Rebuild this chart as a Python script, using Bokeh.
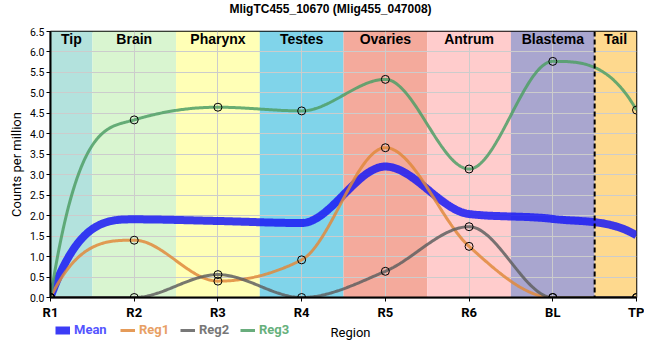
import numpy as np
from bokeh.plotting import figure
from bokeh.layouts import column
from bokeh.models import (ColumnDataSource, FixedTicker, Range1d, Legend, LegendItem,
                          Label, Span, NumeralTickFormatter)
from bokeh.core.properties import value
from bokeh.embed import file_html
from bokeh.resources import INLINE

# ---------------- data ----------------
title_text = "MligTC455_10670 (Mlig455_047008)"
x_title = "Region"
y_title = "Counts per million"
samples = ["R1", "R2", "R3", "R4", "R5", "R6", "BL", "TP"]
regions = ["Tip", "Brain", "Pharynx", "Testes", "Ovaries", "Antrum", "Blastema", "Tail"]
region_colors = ["#b3e2dd", "#d9f5d0", "#ffffb6", "#80d4ea", "#f4aa9c", "#ffcccc", "#a9a6cf", "#fed98e"]
mean_vals = [0.0, 1.91, 1.87, 1.82, 3.20, 2.04, 1.92, 1.52]
reg1_vals = [0.0, 1.40, 0.40, 0.92, 3.66, 1.25, 0.0, 0.0]
reg2_vals = [0.0, 0.0, 0.56, 0.0, 0.64, 1.73, 0.0, 0.0]
reg3_vals = [0.0, 4.34, 4.65, 4.56, 5.33, 3.14, 5.77, 4.58]
y_ticks = [0.0, 0.5, 1.0, 1.5, 2.0, 2.5, 3.0, 3.5, 4.0, 4.5, 5.0, 5.5, 6.0, 6.5]
series_names = ["Mean", "Reg1", "Reg2", "Reg3"]
series_colors = ["#1a1af5", "#e08a3c", "#606060", "#4f9f66"]
legend_text_colors = ["#5555ff", "#e8a065", "#777777", "#66b07c"]

x_idx = np.arange(len(samples), dtype=float)
x_max = float(len(samples) - 1)
y_max = y_ticks[-1]


def smooth(xs, ys, n=60):
    """Monotone cubic Hermite curve through the points (flat at extrema)."""
    x = np.asarray(xs, float)
    y = np.asarray(ys, float)
    h = np.diff(x)
    s = np.diff(y) / h
    m = np.zeros_like(y)
    for i in range(1, len(y) - 1):
        a, b = s[i - 1], s[i]
        if a * b > 0:
            m[i] = np.sign(b) * min(2 * abs(a), 2 * abs(b), abs(a + b) / 2)
    m[0] = 3 * s[0]
    m[-1] = 3 * s[-1]
    out_x, out_y = [], []
    for i in range(len(y) - 1):
        t = np.linspace(0, 1, n, endpoint=(i == len(y) - 2))
        h00 = 2 * t**3 - 3 * t**2 + 1
        h10 = t**3 - 2 * t**2 + t
        h01 = -2 * t**3 + 3 * t**2
        h11 = t**3 - t**2
        yy = h00 * y[i] + h10 * h[i] * m[i] + h01 * y[i + 1] + h11 * h[i] * m[i + 1]
        out_x.extend(x[i] + t * h[i])
        out_y.extend(yy)
    return np.array(out_x), np.clip(np.array(out_y), 0, None)


W = 644
strip_kw = dict(width=W, x_range=Range1d(0, 1), y_range=Range1d(0, 1),
                output_backend="svg", toolbar_location=None,
                min_border_left=50, min_border_right=8, min_border_top=0, min_border_bottom=0,
                outline_line_color=None, background_fill_color="white",
                border_fill_color="white")

# ---------------- title strip ----------------
t = figure(height=16, **strip_kw)
t.axis.visible = False
t.grid.visible = False
t.add_layout(Label(x=280, y=8, x_units="screen", y_units="screen", text=title_text,
                   text_align="center", text_baseline="middle", text_font="Liberation Sans",
                   text_font_style="bold", text_font_size="12px", text_color="black"))

# ---------------- main plot ----------------
p = figure(width=W, height=306, x_range=Range1d(0, x_max), y_range=Range1d(0, y_max),
           output_backend="svg", toolbar_location=None,
           min_border_left=50, min_border_right=8, min_border_top=15, min_border_bottom=22,
           background_fill_color="white", border_fill_color="white")

# region bands (under the grid)
lefts = [max(i - 0.5, 0.0) for i in x_idx]
rights = [min(i + 0.5, x_max) for i in x_idx]
band_src = ColumnDataSource(dict(left=lefts, right=rights, color=region_colors,
                                 cx=[(a + b) / 2 for a, b in zip(lefts, rights)],
                                 name=regions, top=[y_max] * len(regions)))
p.quad(left="left", right="right", bottom=0, top="top", fill_color="color",
       line_alpha=0, source=band_src, level="image")

p.text(x="cx", y="top", text="name", source=band_src, text_align="center",
       text_baseline="top", y_offset=-1, text_font=value("Liberation Sans"),
       text_font_style="bold", text_font_size=value("14px"), text_color="black")

# dashed separator before the tail sample
p.add_layout(Span(location=x_max - 0.5, dimension="height", line_color="black",
                  line_width=2, line_dash="5 3"))

# lines
all_vals = [mean_vals, reg1_vals, reg2_vals, reg3_vals]
widths = [8, 3, 3, 3]
for vals, col, w in zip(all_vals, series_colors, widths):
    sx, sy = smooth(x_idx, vals)
    p.line(sx, sy, line_color=col, line_width=w, line_alpha=0.85)

for vals in all_vals[1:]:
    p.scatter(x_idx, vals, marker="circle", size=8, fill_alpha=0,
              line_color="black", line_width=1)

# axes
p.xaxis.ticker = FixedTicker(ticks=list(x_idx))
p.xaxis.major_label_overrides = {int(i): s for i, s in zip(x_idx, samples)}
p.yaxis.axis_label = y_title
p.yaxis.ticker = FixedTicker(ticks=y_ticks)
p.yaxis.formatter = NumeralTickFormatter(format="0.0")
p.axis.axis_line_width = 2
p.axis.axis_line_color = "black"
p.axis.minor_tick_line_color = None
p.axis.major_tick_in = 0
p.axis.major_tick_out = 4
p.axis.major_tick_line_color = "black"
p.xaxis.major_label_text_font = "Roboto"
p.xaxis.major_label_text_font_style = "bold"
p.xaxis.major_label_text_font_size = "13px"
p.xaxis.major_label_text_color = "black"
p.xaxis.major_label_standoff = 3
p.yaxis.major_label_text_font = "Roboto"
p.yaxis.major_label_text_font_size = "10.5px"
p.yaxis.major_label_text_color = "black"
p.yaxis.major_label_standoff = 2
p.yaxis.axis_label_text_font = "Roboto"
p.yaxis.axis_label_text_font_style = "normal"
p.yaxis.axis_label_text_font_size = "13px"
p.yaxis.axis_label_text_color = "black"
p.yaxis.axis_label_standoff = 3

p.grid.grid_line_color = "#cccccc"
p.grid.grid_line_width = 1
p.ygrid.ticker = FixedTicker(ticks=y_ticks)
p.outline_line_color = "black"
p.outline_line_width = 1.5

# ---------------- legend strip (with the x-axis title) ----------------
q = figure(height=22, **strip_kw)
q.axis.visible = False
q.grid.visible = False

leg_x = [5, 70, 130, 190]
for name, col, w, tc, lx in zip(series_names, series_colors, widths, legend_text_colors, leg_x):
    # legend-only renderer: its points lie outside the strip's visible range
    r = q.line(x=[-2, -1], y=[-2, -2], line_color=col, line_width=w, line_alpha=0.85)
    leg = Legend(items=[LegendItem(label=name, renderers=[r])], location=(lx, 7),
                 orientation="horizontal", background_fill_alpha=0, border_line_alpha=0,
                 label_text_color=tc, label_text_font="Roboto", label_text_font_style="bold",
                 label_text_font_size="13px", glyph_width=15, glyph_height=14,
                 label_height=14, label_width=10, label_standoff=4, padding=0, margin=0,
                 spacing=0)
    q.add_layout(leg)

q.add_layout(Label(x=300, y=12, x_units="screen", y_units="screen", text=x_title,
                   text_align="center", text_baseline="middle", text_font="Roboto",
                   text_font_size="13px", text_color="black"))

open("out.html", "w").write(file_html(column(t, p, q, spacing=0), INLINE))
